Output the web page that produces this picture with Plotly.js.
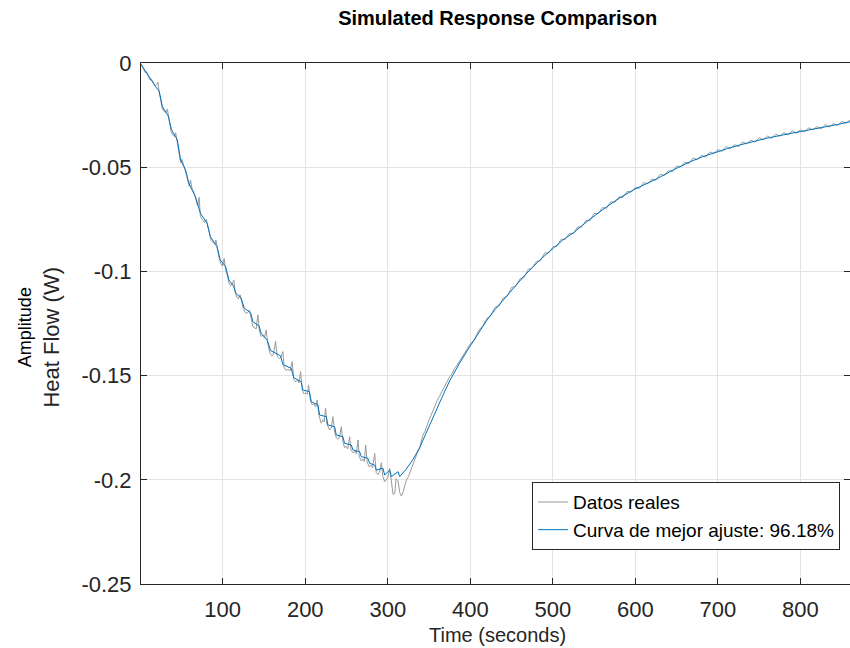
<!DOCTYPE html>
<html>
<head>
<meta charset="utf-8">
<script src="https://cdn.plot.ly/plotly-3.0.1.min.js"></script>
<style>html,body{margin:0;padding:0;background:#fff;}#chart{width:850px;height:648px;}</style>
</head>
<body>
<div id="chart"></div>
<script>
// Best-fit curve (blue)
const fitTime = [0,5,10,15,19,
 23,27, 34,38, 45,49, 55,59, 67,73, 81,85, 93,97, 103.5,107.5, 113,116, 122.4,126, 134,136.5, 144,146.6, 154,158, 170,173, 183,186, 195,197, 205,207.3, 215.3,217.4, 225.5,227.4, 235.6,237.6, 245.6,247.7, 255.8,257.8, 265.9,268, 276,278, 284.1,286.1, 294.2,296.2, 302.3,304.3, 312.4,314.4,
 322,330.5,338.7,346,354.8,365,375,387,399.3,410,419.6,430,439.7,452,464,475,484.2,500.4,512,524.6,544.9,565.1,580,597.4,612,625.8,645.9,666.2,682,698.6,712,726.8,742,759.2,779,799.6,815,827.9,845,860];
const fitValues = [0,-0.0032,-0.0062,-0.0090,-0.0115,
 -0.0135,-0.0210, -0.0255,-0.0320, -0.0369,-0.0465, -0.0513,-0.0577, -0.0642,-0.0721, -0.0769,-0.0833, -0.0881,-0.0945, -0.0977,-0.1041, -0.1070,-0.1105, -0.1129,-0.1175, -0.1200,-0.1241, -0.1262,-0.1297, -0.1330,-0.1380, -0.1405,-0.1447, -0.1465,-0.1510, -0.1529,-0.1569, -0.1577,-0.1625, -0.1641,-0.1689, -0.1697,-0.1737, -0.1745,-0.1785, -0.1793,-0.1825, -0.1833,-0.1857, -0.1865,-0.1889, -0.1897,-0.1921, -0.1929,-0.1953, -0.1945,-0.1977, -0.1953,-0.1985, -0.1961,-0.1985,
 -0.1950,-0.1903,-0.1845,-0.1778,-0.1700,-0.1610,-0.1525,-0.1440,-0.1361,-0.1295,-0.1237,-0.1183,-0.1137,-0.1080,-0.1027,-0.0982,-0.0945,-0.0889,-0.0850,-0.0815,-0.0750,-0.0690,-0.0650,-0.0609,-0.0582,-0.0556,-0.0513,-0.0474,-0.0449,-0.0426,-0.0410,-0.0393,-0.0377,-0.0361,-0.0345,-0.0330,-0.0318,-0.0309,-0.0295,-0.0282];

// Measured data (grey)
const realTime = [0,2,4,6,8,10,12,14,16,18,20,21.5,
 23,25,27,29,31,33,
 35,37.5,39.5,41.5,43,
 45,47,49,50.5,52.5,54,
 56,58,59.5,61,63,65.5,
 67.5,69.5,71.4,73,75.5,78,80.2,
 82,84,86,88.5,90.5,91.8,
 93.5,95.5,97.5,99.5,101.8,
 103.5,105.5,107.5,109.5,111.5,113.5,
 115,117,119,121,
 123,125,127,129.5,132.5,
 134.5,136.5,138.5,140.5,142.6,
 144.5,146.5,148.6,150.5,152.7,
 154.5,157.5,159.5,161.5,164,
 166,168.9,170.5,172.9,
 174.5,176.5,179,181.5,184.2,
 186,188.5,190.5,192.5,194.3,
 196.5,198.5,200.5,202.5,204,
 206.5,208.5,210.5,212.5,214.5,
 216.5,219.4,221.5,223,224.6,
 226.5,229.5,231.5,233.5,
 235.5,237.5,239.5,241.5,243.7,
 245.5,247.5,249.5,251.5,253.8,
 255.5,258.5,260.5,262,263.9,
 265.5,268,270,271.5,273.2,
 275,277.5,279.5,281.5,284.1,
 286,288,290,292.2,
 294,296.2,298.3,300,302.3,
 304.3,306.4,308.5,310,312.4,
 314.5,316.5,318.5,320.5,322.5,
 325,327.5,330.5,333,336,338.7,340.5,342.7,345,347.5,350,352.5,354.8,357.5,360,362.5,365,367.5,370,372.5,375,378,381,384,387,390,393,395.3,
 400,405,410,415,420,425,430,435,440,445,450,455,460,465,470,475,480,485,490,495,500,505,510,515,520,525,530,535,540,545,550,555,560,565,570,575,580,585,590,595,600,605,610,615,620,625,630,635,640,645,650,655,660,665,670,675,680,685,690,695,700,705,710,715,720,725,730,735,740,745,750,755,760,765,770,775,780,785,790,795,800,805,810,815,820,825,830,835,840,845,850,855,860];
const realValues = [0,-0.0012,-0.0030,-0.0046,-0.0043,-0.0066,-0.0082,-0.0079,-0.0096,-0.0110,-0.0104,-0.0092,
 -0.0140,-0.0185,-0.0222,-0.0232,-0.0238,-0.0222,
 -0.0272,-0.0330,-0.0346,-0.0352,-0.0335,
 -0.0380,-0.0440,-0.0478,-0.0462,-0.0495,-0.0508,
 -0.0535,-0.0572,-0.0592,-0.0562,-0.0605,-0.0625,
 -0.0655,-0.0685,-0.0645,-0.0738,-0.0752,-0.0765,-0.0750,
 -0.0785,-0.0828,-0.0852,-0.0862,-0.0870,-0.0850,
 -0.0895,-0.0932,-0.0960,-0.0975,-0.0938,
 -0.0992,-0.1018,-0.1055,-0.1068,-0.1062,-0.1042,
 -0.1098,-0.1125,-0.1132,-0.1112,
 -0.1148,-0.1178,-0.1196,-0.1202,-0.1185,
 -0.1222,-0.1265,-0.1270,-0.1276,-0.1209,
 -0.1285,-0.1312,-0.1305,-0.1318,-0.1281,
 -0.1345,-0.1395,-0.1405,-0.1398,-0.1335,
 -0.1408,-0.1418,-0.1412,-0.1385,
 -0.1462,-0.1475,-0.1470,-0.1478,-0.1433,
 -0.1518,-0.1530,-0.1522,-0.1535,-0.1481,
 -0.1572,-0.1588,-0.1582,-0.1590,-0.1545,
 -0.1625,-0.1640,-0.1635,-0.1650,-0.1617,
 -0.1690,-0.1729,-0.1712,-0.1722,-0.1657,
 -0.1735,-0.1761,-0.1752,-0.1697,
 -0.1768,-0.1798,-0.1805,-0.1795,-0.1745,
 -0.1815,-0.1845,-0.1840,-0.1852,-0.1793,
 -0.1858,-0.1872,-0.1862,-0.1875,-0.1809,
 -0.1888,-0.1910,-0.1900,-0.1912,-0.1833,
 -0.1915,-0.1938,-0.1930,-0.1942,-0.1873,
 -0.1965,-0.1975,-0.1962,-0.1918,
 -0.1985,-0.2009,-0.2001,-0.1990,-0.1945,
 -0.2021,-0.2070,-0.2065,-0.1995,-0.2005,
 -0.2062,-0.2078,-0.2060,-0.2030,-0.2001,
 -0.1985,-0.1955,-0.1921,-0.1900,-0.1870,-0.1849,-0.1815,-0.1785,-0.1768,-0.1735,-0.1712,-0.1690,-0.1665,-0.1640,-0.1618,-0.1600,-0.1580,-0.1560,-0.1540,-0.1528,-0.1505,-0.1490,-0.1465,-0.1450,-0.1430,-0.1415,-0.1392,-0.1377,
 -0.1347,-0.1330,-0.1283,-0.1262,-0.1225,-0.1211,-0.1172,-0.1165,-0.1127,-0.1118,-0.1077,-0.1070,-0.1037,-0.1030,-0.0991,-0.0984,-0.0953,-0.0949,-0.0912,-0.0911,-0.0882,-0.0879,-0.0846,-0.0846,-0.0818,-0.0819,-0.0787,-0.0786,-0.0756,-0.0755,-0.0722,-0.0722,-0.0694,-0.0697,-0.0666,-0.0668,-0.0643,-0.0645,-0.0616,-0.0620,-0.0597,-0.0601,-0.0574,-0.0579,-0.0557,-0.0562,-0.0534,-0.0540,-0.0516,-0.0521,-0.0494,-0.0498,-0.0476,-0.0482,-0.0456,-0.0464,-0.0443,-0.0451,-0.0427,-0.0434,-0.0415,-0.0424,-0.0401,-0.0411,-0.0392,-0.0401,-0.0379,-0.0388,-0.0370,-0.0380,-0.0358,-0.0369,-0.0351,-0.0361,-0.0341,-0.0351,-0.0334,-0.0346,-0.0325,-0.0337,-0.0321,-0.0331,-0.0311,-0.0321,-0.0305,-0.0316,-0.0295,-0.0307,-0.0291,-0.0300,-0.0280,-0.0289,-0.0274];

const xTickVals = [100,200,300,400,500,600,700,800];
const xTickText = ['100','200','300','400','500','600','700','800'];
const yTickVals = [-0.25,-0.2,-0.15,-0.1,-0.05,0];
const yTickText = ['-0.25','-0.2','-0.15','-0.1','-0.05','0'];

const FONT = 'Liberation Sans, Arial, Helvetica, sans-serif';
const AX = '#262626';

const traces = [
  {x: realTime, y: realValues, type: 'scatter', mode: 'lines', name: 'Datos reales',
   line: {color: '#9a9a9a', width: 1}},
  {x: fitTime, y: fitValues, type: 'scatter', mode: 'lines', name: 'Curva de mejor ajuste: 96.18%',
   line: {color: '#0072BD', width: 1}}
];

const axisCommon = {
  showline: true, linecolor: AX, linewidth: 1, mirror: 'ticks',
  ticks: 'inside', ticklen: 6, tickcolor: AX, tickwidth: 1,
  showgrid: true, gridcolor: '#e3e3e3', gridwidth: 1, zeroline: false,
  tickfont: {family: FONT, size: 22, color: AX}
};

const layout = {
  width: 850, height: 648,
  margin: {l: 141, r: 0, t: 63, b: 64},
  paper_bgcolor: '#ffffff', plot_bgcolor: '#ffffff',
  showlegend: true,
  title: {text: '<b>Simulated Response Comparison</b>', font: {family: FONT, size: 20, color: '#000'},
          x: 0.503, xref: 'paper', xanchor: 'center', y: 0.972, yref: 'container', yanchor: 'middle'},
  xaxis: Object.assign({}, axisCommon, {range: [1, 860], tickmode: 'array', tickvals: xTickVals, ticktext: xTickText,
          ticklabelstandoff: 6}),
  yaxis: Object.assign({}, axisCommon, {range: [-0.25, 0], tickmode: 'array', tickvals: yTickVals, ticktext: yTickText,
          ticklabelstandoff: 4}),
  legend: {x: 0.986, xanchor: 'right', y: 0.065, yanchor: 'bottom', bgcolor: '#ffffff',
           bordercolor: AX, borderwidth: 1, font: {family: FONT, size: 19, color: '#000'}, tracegroupgap: 0},
  annotations: [
    {text: 'Time (seconds)', xref: 'paper', yref: 'paper', x: 0.503, y: -0.098, xanchor: 'center', yanchor: 'middle',
     showarrow: false, font: {family: FONT, size: 20, color: AX}},
    {text: 'Amplitude', xref: 'paper', yref: 'paper', x: -0.1636, y: 0.493, xanchor: 'center', yanchor: 'middle',
     textangle: -90, showarrow: false, font: {family: FONT, size: 18, color: '#000'}},
    {text: 'Heat Flow (W)', xref: 'paper', yref: 'paper', x: -0.1255, y: 0.473, xanchor: 'center', yanchor: 'middle',
     textangle: -90, showarrow: false, font: {family: FONT, size: 22, color: AX}}
  ]
};

Plotly.newPlot('chart', traces, layout, {staticPlot: true, displayModeBar: false});
</script>
</body>
</html>
